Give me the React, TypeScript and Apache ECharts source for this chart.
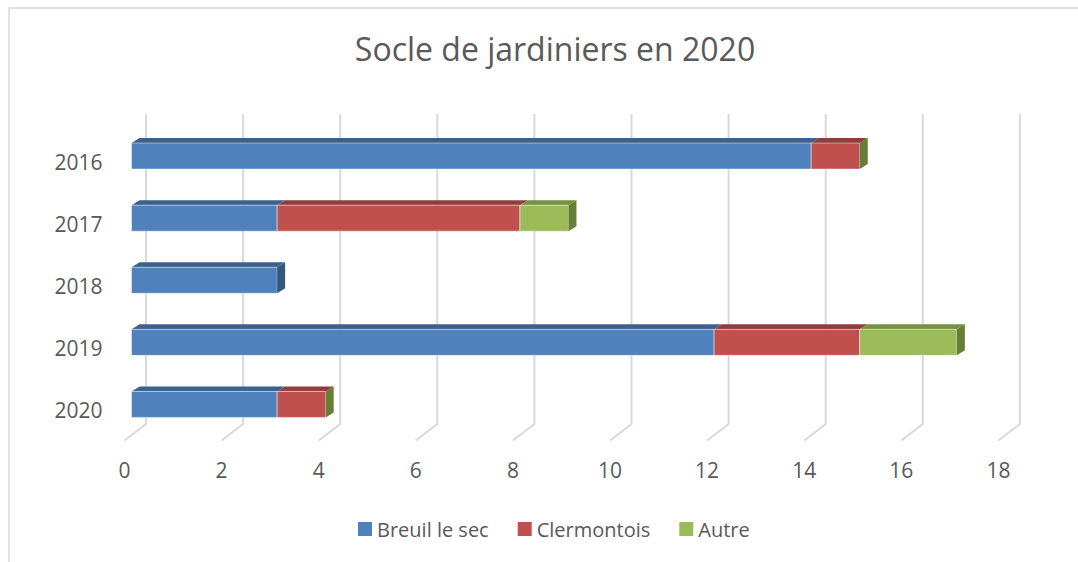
import React, { useEffect, useRef } from 'react';
import * as echarts from 'echarts';

const title = 'Socle de jardiniers en 2020';
const years = ['2016', '2017', '2018', '2019', '2020'];
const seriesNames = ['Breuil le sec', 'Clermontois', 'Autre'];
const breuil: (number | null)[] = [14, 3, 3, 12, 3];
const clermontois: (number | null)[] = [1, 5, null, 3, 1];
const autre: (number | null)[] = [0, 1, null, 2, 0];
const xTicks = [0, 2, 4, 6, 8, 10, 12, 14, 16, 18];

const FRONT = ['#4F81BD', '#C0504D', '#9BBB59'];
const TOP = ['#3C6190', '#923D3B', '#76913F'];
const SIDE = ['#35587F', '#843634', '#667E36'];
const FONT = "'Open Sans', 'Noto Sans', sans-serif";
const GRID_W = 18 * 48.55;

export default function App() {
  const ref = useRef<HTMLDivElement>(null);
  useEffect(() => {
    document.body.style.margin = '0';
    if (!ref.current) return;
    const chart = echarts.init(ref.current, undefined, { renderer: 'svg' });
    const all = [breuil, clermontois, autre];
    const lastIdx = years.map((_, i) => {
      let l = -1;
      all.forEach((arr, k) => { if (arr[i] !== null) l = k; });
      return l;
    });
    const cum = years.map(() => 0);
    const barSeries = all.map((arr, k) => {
      const data: any[] = [];
      arr.forEach((v, i) => {
        if (v === null) return;
        const s = cum[i];
        const e = s + v;
        cum[i] = e;
        data.push([i, s, e, lastIdx[i] === k ? 1 : 0]);
      });
      return {
        type: 'custom',
        name: seriesNames[k],
        xAxisIndex: 0,
        yAxisIndex: 0,
        z: 10,
        itemStyle: { color: FRONT[k] },
        encode: { x: [1, 2], y: 0 },
        data,
        renderItem: (params: any, api: any) => {
          const cat = api.value(0);
          const a = api.coord([api.value(1), cat]);
          const b = api.coord([api.value(2), cat]);
          const last = api.value(3);
          const h = 13, dx = 8, dy = 5;
          const x0 = a[0], x1 = b[0], yc = a[1];
          const yt = yc - h, yb = yc + h;
          const children: any[] = [];
          if (x1 - x0 > 0.1) {
            children.push({
              type: 'polygon',
              shape: { points: [[x0, yt], [x0 + dx, yt - dy], [x1 + dx, yt - dy], [x1, yt]] },
              style: { fill: TOP[k] },
            });
            children.push({
              type: 'rect',
              shape: { x: x0, y: yt, width: x1 - x0, height: 2 * h },
              style: { fill: FRONT[k], stroke: 'rgba(255,255,255,0.45)', lineWidth: 1 },
            });
          }
          if (last) {
            children.push({
              type: 'polygon',
              shape: { points: [[x1, yt], [x1 + dx, yt - dy], [x1 + dx, yb - dy], [x1, yb]] },
              style: { fill: SIDE[k] },
            });
          }
          return { type: 'group', children };
        },
      };
    });

    const gridSeries = {
      type: 'custom',
      xAxisIndex: 1,
      yAxisIndex: 1,
      z: 1,
      silent: true,
      encode: { x: 0, y: 1 },
      data: xTicks.map((v) => [v, 0]),
      renderItem: (params: any, api: any) => {
        const v = api.value(0);
        const pb = api.coord([v, 0]);
        const pt = api.coord([v, 1]);
        return {
          type: 'polyline',
          shape: { points: [[pt[0], pt[1]], [pb[0], pb[1]], [pb[0] - 21.5, pb[1] + 16.5]] },
          style: { stroke: '#D9D9D9', lineWidth: 2, fill: 'none' },
        };
      },
    };

    chart.setOption({
      animation: false,
      backgroundColor: '#ffffff',
      title: {
        text: title,
        left: 550,
        top: 23,
        textAlign: 'center',
        textStyle: { fontSize: 32, fontWeight: 'normal', color: '#595959', fontFamily: FONT, lineHeight: 40 },
      },
      legend: {
        data: seriesNames,
        left: 353,
        top: 514,
        icon: 'rect',
        itemWidth: 14,
        itemHeight: 14,
        itemGap: 29,
        textStyle: { fontSize: 20, color: '#595959', fontFamily: FONT },
      },
      graphic: [
        {
          type: 'rect',
          shape: { x: 9, y: 8, width: 1100, height: 600 },
          style: { fill: 'none', stroke: '#D9D9D9', lineWidth: 1.5 },
          silent: true,
        },
      ],
      grid: [
        { left: 131.5, top: 125, width: GRID_W, height: 310.5 },
        { left: 146, top: 114, width: GRID_W, height: 310 },
        { left: 124.5, top: 114, width: GRID_W, height: 327 },
        { left: 131.5, top: 131, width: GRID_W, height: 310.5 },
      ],
      xAxis: [
        { type: 'value', gridIndex: 0, min: 0, max: 18, interval: 2, show: false },
        { type: 'value', gridIndex: 1, min: 0, max: 18, interval: 2, show: false },
        {
          type: 'value', gridIndex: 2, min: 0, max: 18, interval: 2,
          axisLine: { show: false }, axisTick: { show: false }, splitLine: { show: false },
          axisLabel: { margin: 18, fontSize: 21, color: '#595959', fontFamily: FONT },
        },
        { type: 'value', gridIndex: 3, min: 0, max: 18, interval: 2, show: false },
      ],
      yAxis: [
        { type: 'category', gridIndex: 0, data: years, inverse: true, show: false },
        { type: 'value', gridIndex: 1, min: 0, max: 1, show: false },
        { type: 'value', gridIndex: 2, min: 0, max: 1, show: false },
        {
          type: 'category', gridIndex: 3, data: years, inverse: true,
          axisLine: { show: false }, axisTick: { show: false }, splitLine: { show: false },
          axisLabel: { margin: 29, fontSize: 21, color: '#595959', fontFamily: FONT },
        },
      ],
      series: [gridSeries, ...barSeries],
    });
    return () => chart.dispose();
  }, []);
  return <div ref={ref} style={{ width: 1078, height: 562 }} />;
}
